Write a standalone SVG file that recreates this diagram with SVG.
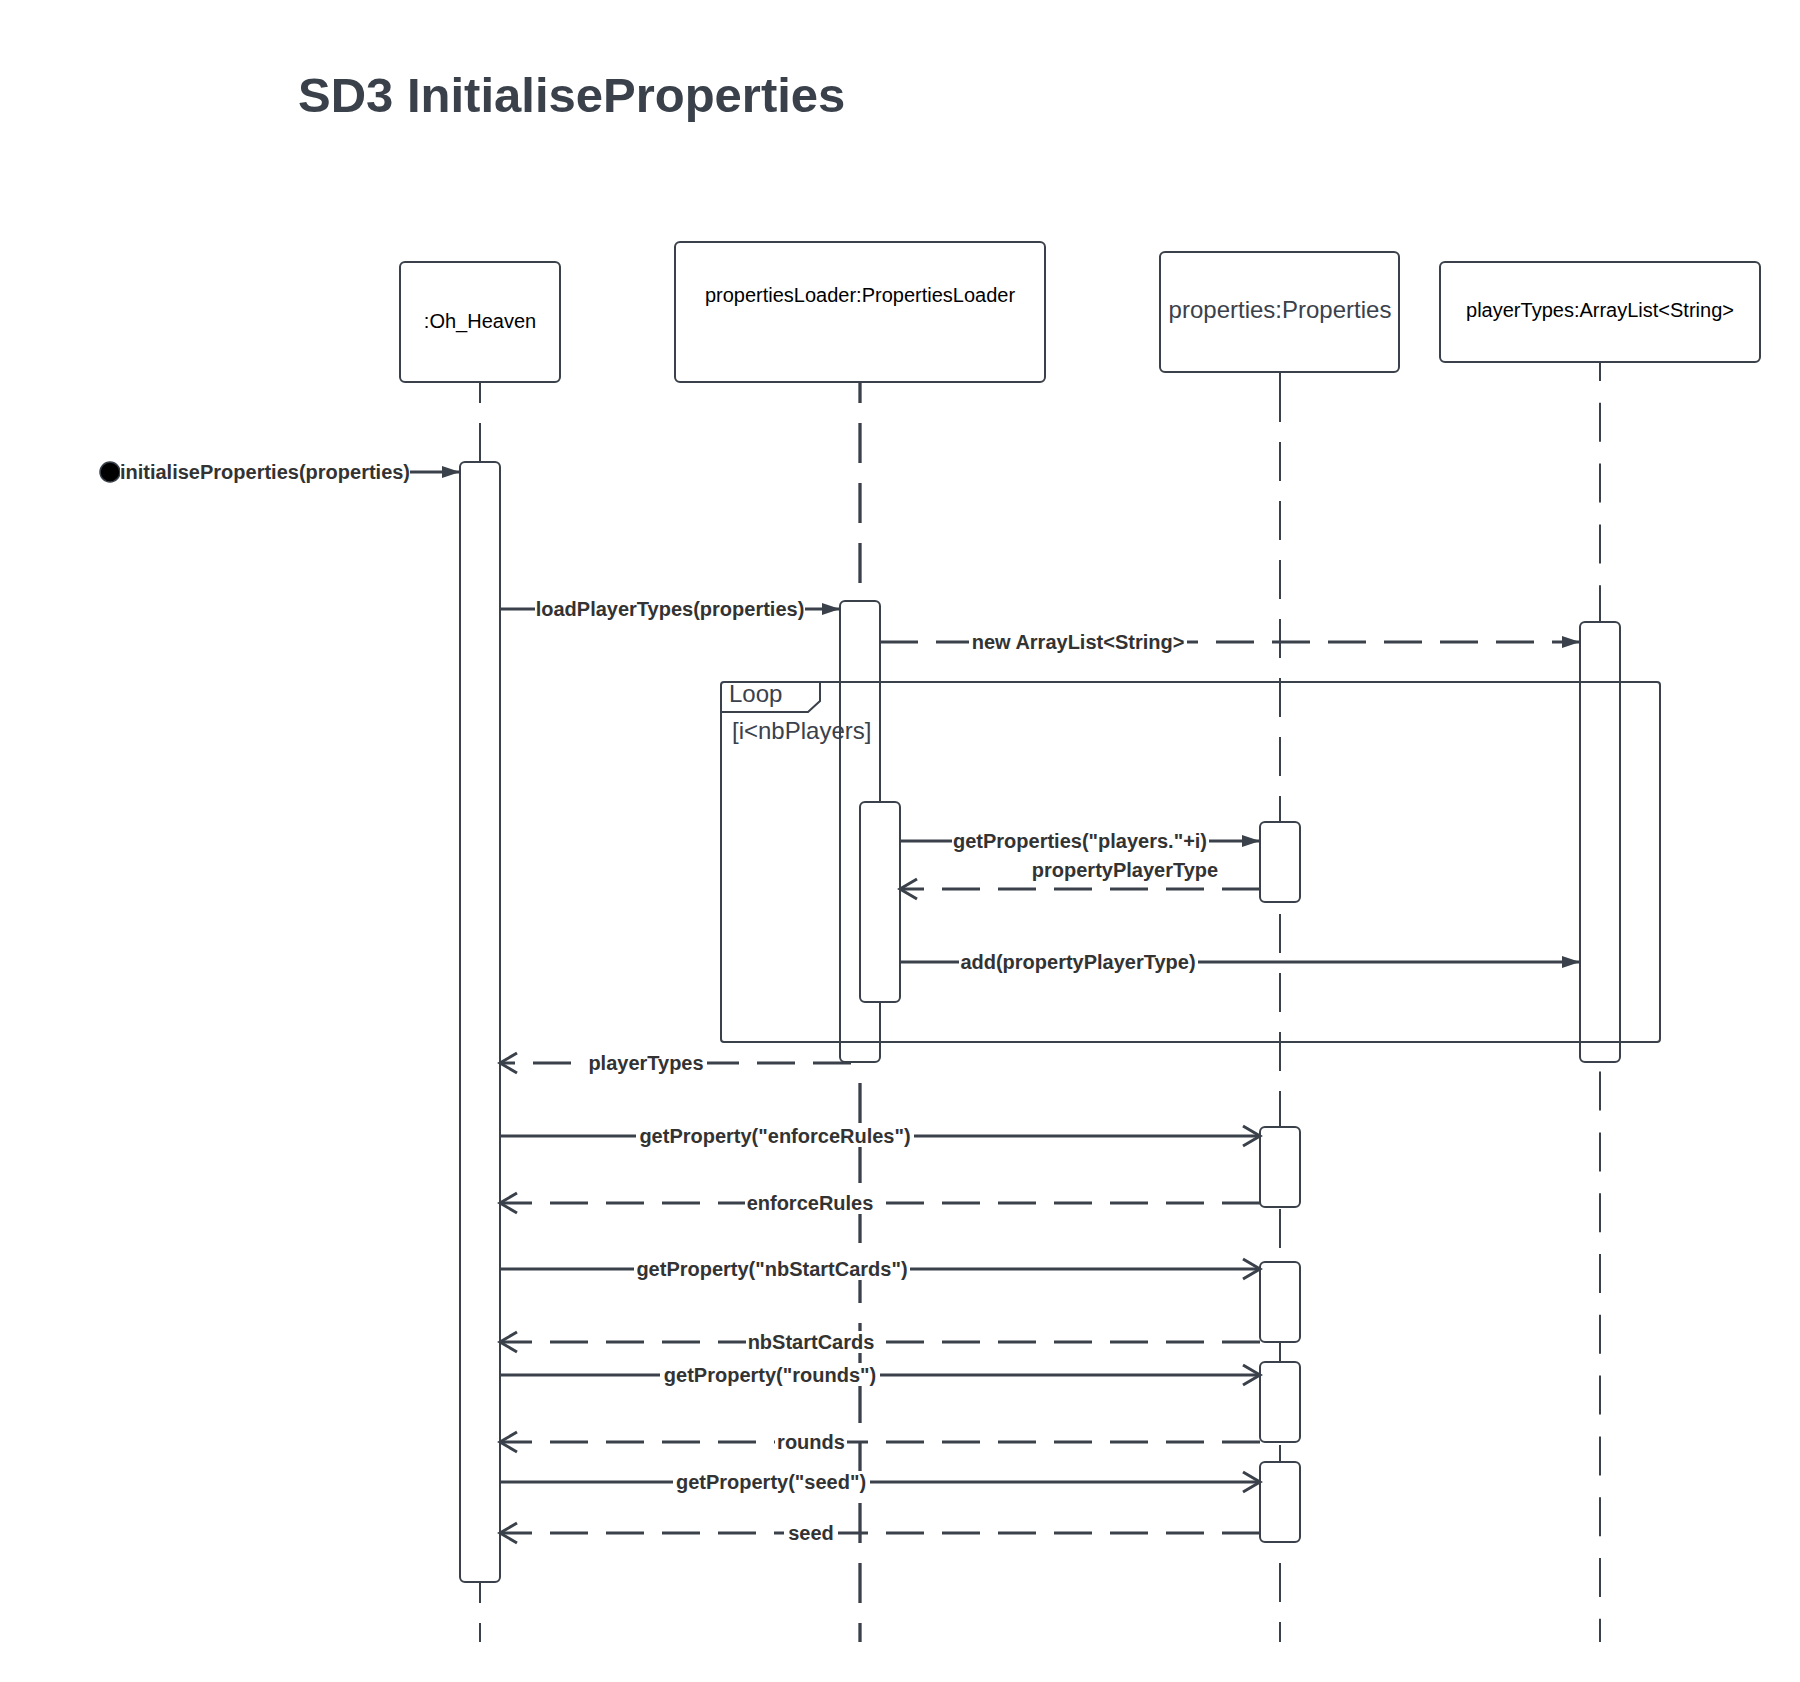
<svg xmlns="http://www.w3.org/2000/svg" width="1800" height="1682" viewBox="0 0 1800 1682">
<style>
.box{fill:#fff;stroke:#3a414a;stroke-width:2}
.act{fill:#fff;stroke:#3a414a;stroke-width:2}
.hd{font-family:"Liberation Sans",Arial,sans-serif;font-size:20px;fill:#000;text-anchor:middle}
.life{stroke:#3a414a;fill:none}
.msg{stroke:#3a414a;stroke-width:3;fill:none}
.dash{stroke-dasharray:38 18}
.lbl{font-family:"Liberation Sans",Arial,sans-serif;font-size:20px;font-weight:bold;fill:#333;text-anchor:middle}
.bg{fill:#fff}
.frm{fill:none;stroke:#3a414a;stroke-width:2}
.ft{font-family:"Liberation Sans",Arial,sans-serif;font-size:24px;fill:#3a414a}
</style>
<defs>
<marker id="fa" markerUnits="userSpaceOnUse" markerWidth="20" markerHeight="14" refX="18" refY="7" orient="auto" overflow="visible"><path d="M0,1 L18,7 L0,13 z" fill="#3a414a"/></marker>
<marker id="oa" markerUnits="userSpaceOnUse" markerWidth="22" markerHeight="24" refX="18" refY="11" orient="auto" overflow="visible"><path d="M1,1 L18,11 L1,21" fill="none" stroke="#3a414a" stroke-width="3" stroke-dasharray="none"/></marker>
</defs>
<rect width="1800" height="1682" fill="#fff"/>
<text x="298" y="112" font-family="'Liberation Sans',Arial,sans-serif" font-size="49" font-weight="bold" fill="#3a414a">SD3 InitialiseProperties</text>

<g id="node-ohheaven">
<line class="life" x1="480" y1="382" x2="480" y2="1642" stroke-width="2" stroke-dasharray="40 20" stroke-dashoffset="19"/>
<rect class="box" x="400" y="262" width="160" height="120" rx="5"/>
<text class="hd" x="480" y="328">:Oh_Heaven</text>
<rect class="act" x="460" y="462" width="40" height="1120" rx="5"/>
</g>
<g id="node-propertiesloader">
<line class="life" x1="860" y1="382" x2="860" y2="1642" stroke-width="3.3" stroke-dasharray="40 20" stroke-dashoffset="19"/>
<rect class="box" x="675" y="242" width="370" height="140" rx="5"/>
<text class="hd" x="860" y="302">propertiesLoader:PropertiesLoader</text>
<rect class="act" x="840" y="601" width="40" height="461" rx="5"/>
</g>
<g id="node-properties">
<line class="life" x1="1280" y1="372" x2="1280" y2="1642" stroke-width="2" stroke-dasharray="39 20" stroke-dashoffset="48"/>
<line class="life" x1="1280" y1="372" x2="1280" y2="403" stroke-width="2"/>
<rect class="box" x="1160" y="252" width="239" height="120" rx="5"/>
<text x="1280" y="318" font-family="'Liberation Sans',Arial,sans-serif" font-size="24" fill="#3a414a" text-anchor="middle">properties:Properties</text>
<rect class="act" x="1260" y="822" width="40" height="80" rx="5"/>
<rect class="act" x="1260" y="1127" width="40" height="80" rx="5"/>
<rect class="act" x="1260" y="1262" width="40" height="80" rx="5"/>
<rect class="act" x="1260" y="1362" width="40" height="80" rx="5"/>
<rect class="act" x="1260" y="1462" width="40" height="80" rx="5"/>
</g>
<g id="node-playertypes">
<line class="life" x1="1600" y1="362" x2="1600" y2="1642" stroke-width="2" stroke-dasharray="39 21.8" stroke-dashoffset="20"/>
<rect class="box" x="1440" y="262" width="320" height="100" rx="5"/>
<text class="hd" x="1600" y="317">playerTypes:ArrayList&lt;String&gt;</text>
<rect class="act" x="1580" y="622" width="40" height="440" rx="5"/>
</g>

<g id="frame-loop">
<rect class="frm" x="721" y="682" width="939" height="360" rx="3"/>
<path class="frm" d="M721,712 L808,712 L820,701 L820,682"/>
<text class="ft" x="729" y="702">Loop</text>
<text class="ft" x="732" y="739">[i&lt;nbPlayers]</text>
</g>
<g id="node-propertiesloader-nested">
<rect class="act" x="860" y="802" width="40" height="200" rx="5"/>
</g>

<g id="connectors">
<circle cx="110" cy="472" r="10" fill="#000" stroke="#3a414a" stroke-width="1.5"/>
<line class="msg" x1="120" y1="472" x2="460" y2="472" marker-end="url(#fa)"/>
<rect class="bg" x="120" y="461" width="290" height="22"/>
<text class="lbl" x="265" y="479">initialiseProperties(properties)</text>

<line class="msg" x1="500" y1="609" x2="840" y2="609" marker-end="url(#fa)"/>
<rect class="bg" x="535" y="598" width="270" height="22"/>
<text class="lbl" x="670" y="616">loadPlayerTypes(properties)</text>

<line class="msg dash" x1="880" y1="642" x2="1580" y2="642" marker-end="url(#fa)"/>
<rect class="bg" x="969" y="631" width="218" height="22"/>
<text class="lbl" x="1078" y="649">new ArrayList&lt;String&gt;</text>

<line class="msg" x1="900" y1="841" x2="1260" y2="841" marker-end="url(#fa)"/>
<rect class="bg" x="952" y="830" width="257" height="22"/>
<text class="lbl" x="1080" y="848">getProperties("players."+i)</text>

<line class="msg dash" x1="1260" y1="889" x2="900" y2="889" marker-end="url(#oa)"/>
<text class="lbl" x="1125" y="877">propertyPlayerType</text>

<line class="msg" x1="900" y1="962" x2="1580" y2="962" marker-end="url(#fa)"/>
<rect class="bg" x="959" y="951" width="239" height="22"/>
<text class="lbl" x="1078" y="969">add(propertyPlayerType)</text>

<line class="msg dash" x1="851" y1="1063" x2="500" y2="1063" marker-end="url(#oa)"/>
<rect class="bg" x="585" y="1052" width="122" height="22"/>
<text class="lbl" x="646" y="1070">playerTypes</text>

<line class="msg" x1="500" y1="1136" x2="1260" y2="1136" marker-end="url(#oa)"/>
<rect class="bg" x="636" y="1125" width="278" height="22"/>
<text class="lbl" x="775" y="1143">getProperty("enforceRules")</text>

<line class="msg dash" x1="1260" y1="1203" x2="500" y2="1203" marker-end="url(#oa)"/>
<rect class="bg" x="745" y="1192" width="130" height="22"/>
<text class="lbl" x="810" y="1210">enforceRules</text>

<line class="msg" x1="500" y1="1269" x2="1260" y2="1269" marker-end="url(#oa)"/>
<rect class="bg" x="634" y="1258" width="276" height="22"/>
<text class="lbl" x="772" y="1276">getProperty("nbStartCards")</text>

<line class="msg dash" x1="1260" y1="1342" x2="500" y2="1342" marker-end="url(#oa)"/>
<rect class="bg" x="746" y="1331" width="130" height="22"/>
<text class="lbl" x="811" y="1349">nbStartCards</text>

<line class="msg" x1="500" y1="1375" x2="1260" y2="1375" marker-end="url(#oa)"/>
<rect class="bg" x="660" y="1364" width="220" height="22"/>
<text class="lbl" x="770" y="1382">getProperty("rounds")</text>

<line class="msg dash" x1="1260" y1="1442" x2="500" y2="1442" marker-end="url(#oa)"/>
<rect class="bg" x="775" y="1431" width="72" height="22"/>
<text class="lbl" x="811" y="1449">rounds</text>

<line class="msg" x1="500" y1="1482" x2="1260" y2="1482" marker-end="url(#oa)"/>
<rect class="bg" x="673" y="1471" width="197" height="22"/>
<text class="lbl" x="771" y="1489">getProperty("seed")</text>

<line class="msg dash" x1="1260" y1="1533" x2="500" y2="1533" marker-end="url(#oa)"/>
<rect class="bg" x="784" y="1522" width="54" height="22"/>
<text class="lbl" x="811" y="1540">seed</text>
</g>
</svg>
